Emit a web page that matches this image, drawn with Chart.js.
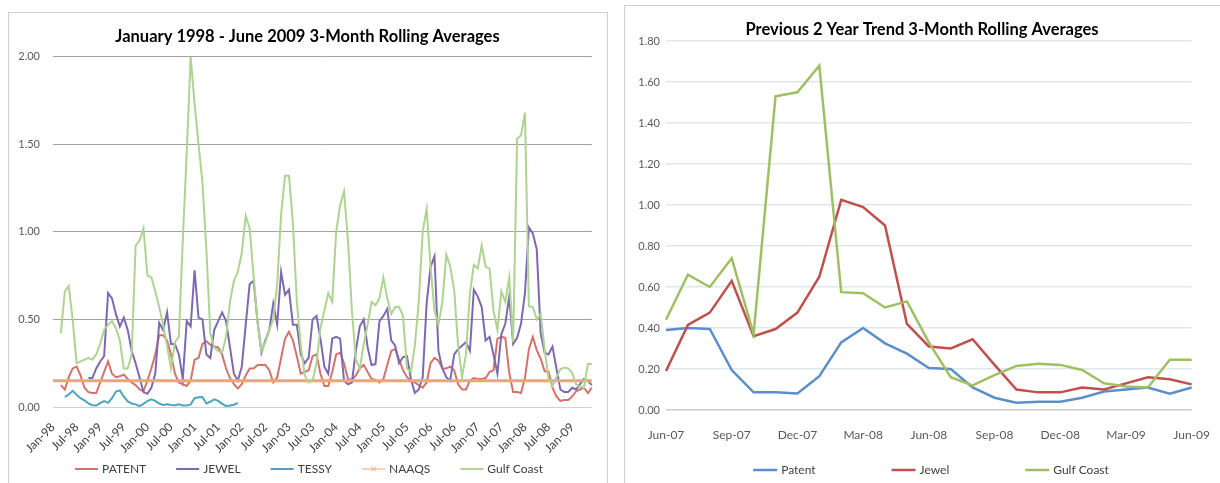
<!DOCTYPE html>
<html>
<head>
<meta charset="utf-8">
<script src="https://cdn.jsdelivr.net/npm/chart.js@4.4.0/dist/chart.umd.min.js"></script>
<style>
  html, body { margin: 0; padding: 0; background: #fff; overflow: hidden; }
  body { width: 1220px; height: 483px; position: relative; }
  .frame { position: absolute; box-sizing: border-box; border: 1px solid #cfcfcf; }
  #leftFrame { left: 8px; top: 12px; width: 600px; height: 480px; }
  #rightFrame { left: 624px; top: 5px; width: 610px; height: 490px; }
  canvas { position: absolute; }
  #leftChart { left: 8px; top: 12px; }
  #rightChart { left: 624px; top: 5px; }
</style>
</head>
<body>
<div class="frame" id="leftFrame"></div>
<div class="frame" id="rightFrame"></div>
<canvas id="leftChart" width="599" height="471"></canvas>
<canvas id="rightChart" width="596" height="481"></canvas>
<script>
// month categories Jan-98 .. Jun-09
const monthNames = ['Jan', 'Feb', 'Mar', 'Apr', 'May', 'Jun', 'Jul', 'Aug', 'Sep', 'Oct', 'Nov', 'Dec'];
const months = [];
for (let y = 1998; y <= 2009; y++) {
  for (let m = 0; m < 12; m++) {
    if (y === 2009 && m > 5) break;
    months.push(monthNames[m] + '-' + String(y).slice(2));
  }
}
const trendMonths = months.slice(months.indexOf('Jun-07'));

// left chart series, one row per year
const patent = [
  null, null, 0.125, 0.10, 0.17, 0.22, 0.23, 0.18, 0.11, 0.085, 0.08, 0.08,
  0.14, 0.20, 0.26, 0.19, 0.17, 0.175, 0.185, 0.16, 0.14, 0.125, 0.10, 0.09,
  0.15, 0.22, 0.30, 0.41, 0.41, 0.38, 0.30, 0.19, 0.14, 0.13, 0.12, 0.15,
  0.27, 0.28, 0.36, 0.375, 0.355, 0.345, 0.34, 0.30, 0.22, 0.165, 0.13, 0.105,
  0.13, 0.18, 0.22, 0.22, 0.24, 0.24, 0.24, 0.21, 0.14, 0.17, 0.28, 0.39,
  0.43, 0.38, 0.29, 0.19, 0.20, 0.21, 0.29, 0.30, 0.19, 0.12, 0.12, 0.20,
  0.30, 0.31, 0.25, 0.16, 0.155, 0.18, 0.22, 0.24, 0.20, 0.16, 0.155, 0.14,
  0.16, 0.24, 0.32, 0.33, 0.27, 0.21, 0.17, 0.15, 0.14, 0.125, 0.11, 0.14,
  0.25, 0.28, 0.265, 0.22, 0.22, 0.23, 0.21, 0.13, 0.10, 0.10, 0.15, 0.165,
  0.16, 0.16, 0.165, 0.20, 0.21, 0.39, 0.40, 0.395, 0.195, 0.086, 0.086, 0.08,
  0.165, 0.33, 0.40, 0.325, 0.275, 0.205, 0.20, 0.11, 0.06, 0.035, 0.04, 0.04,
  0.06, 0.09, 0.10, 0.11, 0.08, 0.11
];
const jewel = [
  null, null, null, null, null, null, null, null, null, 0.165, 0.165, 0.22,
  0.26, 0.29, 0.65, 0.62, 0.53, 0.46, 0.51, 0.44, 0.32, 0.25, 0.17, 0.085,
  0.075, 0.11, 0.19, 0.48, 0.44, 0.54, 0.36, 0.36, 0.30, 0.16, 0.49, 0.46,
  0.78, 0.51, 0.50, 0.30, 0.28, 0.44, 0.49, 0.54, 0.49, 0.34, 0.19, 0.15,
  0.23, 0.47, 0.70, 0.72, 0.49, 0.31, 0.38, 0.44, 0.59, 0.47, 0.77, 0.64,
  0.67, 0.47, 0.47, 0.30, 0.25, 0.28, 0.50, 0.52, 0.39, 0.23, 0.19, 0.39,
  0.40, 0.39, 0.15, 0.13, 0.14, 0.32, 0.46, 0.50, 0.34, 0.24, 0.245, 0.49,
  0.52, 0.56, 0.38, 0.35, 0.25, 0.285, 0.29, 0.16, 0.08, 0.10, 0.17, 0.59,
  0.80, 0.86, 0.32, 0.22, 0.17, 0.15, 0.30, 0.33, 0.35, 0.37, 0.32, 0.67,
  0.63, 0.57, 0.38, 0.40, 0.30, 0.19, 0.415, 0.475, 0.63, 0.36, 0.395, 0.475,
  0.65, 1.025, 0.99, 0.90, 0.42, 0.31, 0.30, 0.345, 0.22, 0.10, 0.086, 0.086,
  0.11, 0.10, 0.13, 0.16, 0.15, 0.125
];
const tessy = [
  null, null, null, 0.057, 0.072, 0.092, 0.07, 0.05, 0.038, 0.02, 0.01, 0.008,
  0.022, 0.034, 0.024, 0.05, 0.088, 0.095, 0.06, 0.032, 0.02, 0.015, 0.005, 0.018,
  0.034, 0.044, 0.035, 0.02, 0.012, 0.015, 0.012, 0.01, 0.015, 0.008, 0.008, 0.015,
  0.05, 0.055, 0.057, 0.02, 0.03, 0.044, 0.035, 0.018, 0.006, 0.008, 0.013, 0.023
];
const naaqsLevel = 0.15;
const gulfCoast = [
  null, null, 0.42, 0.66, 0.69, 0.50, 0.25, 0.26, 0.27, 0.28, 0.27, 0.30,
  0.36, 0.44, 0.47, 0.49, 0.45, 0.38, 0.22, 0.22, 0.30, 0.92, 0.95, 1.02,
  0.75, 0.74, 0.66, 0.57, 0.47, 0.35, 0.22, 0.37, 0.40, 0.95, 1.45, 2.00,
  1.73, 1.50, 1.28, 0.90, 0.42, 0.34, 0.32, 0.31, 0.40, 0.60, 0.72, 0.77,
  0.88, 1.09, 1.02, 0.75, 0.48, 0.32, 0.37, 0.44, 0.50, 0.70, 1.10, 1.32,
  1.32, 1.05, 0.60, 0.35, 0.18, 0.14, 0.15, 0.25, 0.45, 0.55, 0.65, 0.60,
  1.00, 1.15, 1.23, 0.95, 0.55, 0.27, 0.22, 0.36, 0.47, 0.60, 0.58, 0.62,
  0.74, 0.62, 0.53, 0.57, 0.57, 0.52, 0.22, 0.20, 0.35, 0.60, 1.00, 1.13,
  0.80, 0.55, 0.47, 0.60, 0.87, 0.80, 0.67, 0.35, 0.17, 0.30, 0.65, 0.81,
  0.79, 0.92, 0.80, 0.79, 0.55, 0.44, 0.66, 0.60, 0.74, 0.37, 1.53, 1.55,
  1.68, 0.575, 0.57, 0.50, 0.53, 0.33, 0.16, 0.12, 0.17, 0.215, 0.225, 0.22,
  0.195, 0.13, 0.115, 0.11, 0.245, 0.245
];

// right chart series, Jun-07 .. Jun-09
const trendPatent = [0.39, 0.40, 0.395, 0.195, 0.086, 0.086, 0.08, 0.165, 0.33, 0.40, 0.325, 0.275, 0.205,
  0.20, 0.11, 0.06, 0.035, 0.04, 0.04, 0.06, 0.09, 0.10, 0.11, 0.08, 0.11];
const trendJewel = [0.19, 0.415, 0.475, 0.63, 0.36, 0.395, 0.475, 0.65, 1.025, 0.99, 0.90, 0.42, 0.31,
  0.30, 0.345, 0.22, 0.10, 0.086, 0.086, 0.11, 0.10, 0.13, 0.16, 0.15, 0.125];
const trendGulf = [0.44, 0.66, 0.60, 0.74, 0.37, 1.53, 1.55, 1.68, 0.575, 0.57, 0.50, 0.53, 0.33,
  0.16, 0.12, 0.17, 0.215, 0.225, 0.22, 0.195, 0.13, 0.115, 0.11, 0.245, 0.245];

// legend drawn as a single row with wide gaps (like the Excel legend)
const lineLegend = {
  id: 'lineLegend',
  afterDraw(chart, args, opts) {
    const ctx = chart.ctx;
    const sets = chart.data.datasets;
    ctx.save();
    ctx.font = opts.font;
    const widths = sets.map(ds => opts.swatch + opts.textGap + ctx.measureText(ds.label).width);
    const total = widths.reduce((a, b) => a + b, 0) + opts.gap * (sets.length - 1);
    let x = opts.cx - total / 2;
    sets.forEach((ds, i) => {
      ctx.strokeStyle = ds.borderColor;
      ctx.lineWidth = ds.legendLineWidth || ds.borderWidth;
      ctx.beginPath();
      ctx.moveTo(x, opts.y);
      ctx.lineTo(x + opts.swatch, opts.y);
      ctx.stroke();
      if (ds.legendMarker) {
        const mx = x + opts.swatch / 2;
        ctx.lineWidth = 1;
        ctx.beginPath();
        ctx.moveTo(mx - 2.5, opts.y - 2.5); ctx.lineTo(mx + 2.5, opts.y + 2.5);
        ctx.moveTo(mx + 2.5, opts.y - 2.5); ctx.lineTo(mx - 2.5, opts.y + 2.5);
        ctx.stroke();
      }
      ctx.fillStyle = opts.color;
      ctx.textBaseline = 'middle';
      ctx.fillText(ds.label, x + opts.swatch + opts.textGap, opts.y);
      x += widths[i] + opts.gap;
    });
    ctx.restore();
  }
};

const tickFont = { family: 'Lato', size: 11 };
const titleFont = { family: 'Lato', size: 16.5, weight: 'bold' };

new Chart(document.getElementById('leftChart'), {
  type: 'line',
  data: {
    labels: months,
    datasets: [
      { label: 'PATENT', data: patent, borderColor: '#d4726e', borderWidth: 2, order: 5 },
      { label: 'JEWEL', data: jewel, borderColor: '#7d69b3', borderWidth: 2, order: 4 },
      { label: 'TESSY', data: tessy, borderColor: '#4ea5bb', borderWidth: 2, order: 3 },
      {
        label: 'NAAQS',
        data: [{ x: months[0], y: naaqsLevel }, { x: months[months.length - 1], y: naaqsLevel }],
        borderColor: '#f3a46e', borderWidth: 3, legendLineWidth: 1, legendMarker: true, order: 2
      },
      { label: 'Gulf Coast', data: gulfCoast, borderColor: '#afd391', borderWidth: 2, order: 1 }
    ]
  },
  options: {
    responsive: false,
    animation: false,
    layout: { padding: { top: 0, left: 0, right: 0, bottom: 18 } },
    elements: { point: { radius: 0 }, line: { tension: 0 } },
    plugins: {
      legend: { display: false },
      tooltip: { enabled: false },
      title: {
        display: true,
        text: 'January 1998 - June 2009 3-Month Rolling Averages',
        font: titleFont, color: '#000',
        padding: { top: 15, bottom: 9.7 }
      },
      lineLegend: { cx: 301, y: 457, gap: 30, swatch: 23, textGap: 4, font: '12px Lato', color: '#404040' }
    },
    scales: {
      x: {
        grid: { display: false },
        border: { display: false },
        ticks: {
          autoSkip: false, minRotation: 45, maxRotation: 45, padding: 5,
          font: { family: 'Lato', size: 12 }, color: '#404040',
          callback(value, index) { return index % 6 === 0 ? this.getLabelForValue(value) : ''; }
        },
        afterFit(scale) { scale.height = 58; }
      },
      y: {
        min: 0, max: 2,
        ticks: { stepSize: 0.5, padding: 13, font: tickFont, color: '#595959', callback: v => v.toFixed(2) },
        grid: { drawTicks: false, color: c => c.tick.value === 0 ? '#c9d1da' : '#a3a3a3' },
        border: { display: false },
        afterFit(scale) { scale.width = 45; }
      }
    }
  },
  plugins: [lineLegend]
});

new Chart(document.getElementById('rightChart'), {
  type: 'line',
  data: {
    labels: trendMonths,
    datasets: [
      { label: 'Patent', data: trendPatent, borderColor: '#5b8fcb', borderWidth: 2.5, order: 3 },
      { label: 'Jewel', data: trendJewel, borderColor: '#c0504d', borderWidth: 2.5, order: 2 },
      { label: 'Gulf Coast', data: trendGulf, borderColor: '#9fc062', borderWidth: 2.5, order: 1 }
    ]
  },
  options: {
    responsive: false,
    animation: false,
    layout: { padding: { top: 0, left: 0, right: 0, bottom: 36 } },
    elements: { point: { radius: 0 }, line: { tension: 0 } },
    plugins: {
      legend: { display: false },
      tooltip: { enabled: false },
      title: {
        display: true,
        text: 'Previous 2 Year Trend 3-Month Rolling Averages',
        font: titleFont, color: '#000',
        padding: { top: 15, bottom: 1.2 }
      },
      lineLegend: { cx: 307, y: 465, gap: 76, swatch: 24, textGap: 4, font: '12px Lato', color: '#404040' }
    },
    scales: {
      x: {
        grid: { display: false },
        border: { display: false },
        ticks: {
          autoSkip: false, maxRotation: 0, padding: 10,
          font: { family: 'Lato', size: 12 }, color: '#595959',
          callback(value, index) { return index % 3 === 0 ? this.getLabelForValue(value) : ''; }
        },
        afterFit(scale) { scale.height = 40; }
      },
      y: {
        min: 0, max: 1.8,
        ticks: { stepSize: 0.2, padding: 6, font: tickFont, color: '#595959', callback: v => v.toFixed(2) },
        grid: { drawTicks: false, lineWidth: 1.5, color: c => c.tick.value === 0 ? '#cccccc' : '#e1e7ee' },
        border: { display: false },
        afterFit(scale) { scale.width = 42; }
      }
    }
  },
  plugins: [lineLegend]
});
</script>
</body>
</html>
